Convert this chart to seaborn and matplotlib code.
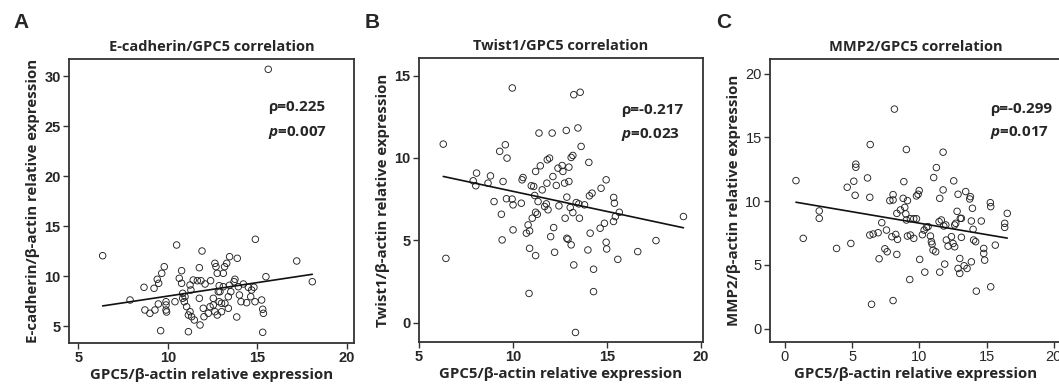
import numpy as np
import pandas as pd
import matplotlib
matplotlib.use("Agg")
import matplotlib.pyplot as plt
import seaborn as sns

# panel A: E-cadherin vs GPC5
gpc5_a = [15.61, 6.36, 7.89, 8.67, 8.72, 9.0, 9.23, 9.28, 9.41, 9.49, 9.66, 9.8, 9.6, 9.47,
          9.9, 9.9, 9.93, 9.9, 10.4, 10.49, 10.64, 10.77, 10.77, 10.83, 10.83, 10.96, 10.92,
          11.05, 11.15, 11.24, 11.15, 11.33, 11.48, 11.29, 11.24, 11.42, 11.65, 11.76, 11.8,
          11.76, 11.91, 11.85, 11.98, 12.02, 12.08, 12.26, 12.36, 12.39, 12.54, 12.63, 12.54,
          12.63, 12.69, 12.76, 12.82, 12.87, 12.76, 13.0, 12.87, 12.91, 13.1, 13.1, 13.17,
          13.29, 13.45, 13.44, 13.52, 13.38, 13.19, 13.0, 13.38, 13.7, 13.75, 13.85, 13.88,
          13.94, 14.0, 14.09, 14.22, 14.4, 14.5, 14.63, 14.68, 14.81, 14.87, 14.89, 15.24,
          15.3, 15.34, 15.3, 15.48, 17.2, 18.07]
ecad = [30.67, 12.03, 7.6, 8.87, 6.6, 6.27, 8.77, 6.6, 9.67, 9.27, 10.27, 10.93, 4.53, 7.2,
        7.1, 6.6, 6.4, 7.43, 7.43, 13.1, 9.77, 10.53, 9.27, 8.27, 7.77, 7.93, 7.43,
        6.93, 6.1, 6.43, 4.43, 5.93, 5.6, 8.6, 9.1, 9.6, 9.53, 7.77, 5.1,
        10.83, 12.5, 9.53, 6.77, 5.93, 9.2, 6.27, 6.93, 9.53, 7.1, 6.43, 7.77,
        11.27, 10.93, 10.27, 8.43, 9.03, 6.1, 6.43, 7.43, 8.43, 8.93, 10.27, 10.93,
        11.27, 11.93, 9.07, 8.43, 6.77, 7.27, 7.27, 7.93, 9.43, 9.67, 5.9, 11.77,
        8.93, 8.1, 7.43, 9.2, 7.33, 8.87, 7.93, 8.6, 8.87, 7.43, 13.67, 7.6,
        6.67, 6.27, 4.37, 9.93, 11.5, 9.43]

# panel B: Twist1 vs GPC5
gpc5_b = [6.29, 6.43, 7.88, 8.02, 8.06, 8.67, 8.8, 8.99, 9.29, 9.59, 9.68, 9.47, 9.38, 9.42,
          9.65, 9.95, 10.0, 9.96, 10.0, 10.44, 10.48, 10.53, 10.71, 10.8, 10.85, 10.88, 10.88,
          10.97, 11.02, 11.1, 11.15, 11.2, 11.2, 11.2, 11.33, 11.29, 11.38, 11.45, 11.55, 11.68,
          11.77, 11.8, 11.86, 11.82, 11.94, 12.0, 12.08, 12.12, 12.16, 12.21, 12.3, 12.39,
          12.44, 12.61, 12.65, 12.74, 12.77, 12.83, 12.86, 12.86, 12.92, 12.97, 12.97, 13.04,
          13.09, 13.09, 13.18, 13.18, 13.23, 13.23, 13.32, 13.36, 13.45, 13.5, 13.53, 13.57,
          13.62, 13.8, 13.98, 14.03, 14.06, 14.1, 14.2, 14.28, 14.28, 14.63, 14.68, 14.86,
          14.95, 14.95, 14.98, 15.35, 15.39, 15.34, 15.44, 15.57, 15.65, 16.63, 17.6, 19.06]
twist1 = [10.84, 3.9, 8.61, 8.31, 9.08, 8.47, 8.91, 7.35, 10.4, 10.8, 9.99, 8.57, 6.58, 5.02,
          7.52, 7.5, 7.15, 14.25, 5.63, 7.25, 8.67, 8.81, 5.43, 5.93, 1.77, 4.51, 5.57,
          8.31, 6.34, 8.27, 7.72, 6.7, 4.07, 9.18, 7.35, 6.58, 11.51, 9.52, 8.06, 7.05,
          7.21, 8.47, 6.85, 9.89, 9.99, 5.22, 11.51, 8.87, 5.77, 4.27, 8.33, 9.38,
          7.09, 9.54, 9.18, 8.47, 6.34, 11.67, 7.62, 5.12, 5.06, 8.57, 9.44, 6.99,
          4.72, 10.03, 10.15, 6.68, 3.5, 13.84, -0.6, 7.29, 11.82, 7.21, 6.34, 13.99,
          10.7, 7.15, 4.41, 9.73, 7.7, 5.43, 7.86, 3.24, 1.88, 5.73, 8.16, 6.03,
          8.67, 4.88, 4.47, 7.6, 7.25, 6.14, 6.44, 3.84, 6.7, 4.31, 4.98, 6.44]

# panel C: MMP2 vs GPC5
gpc5_c = [0.82, 1.36, 2.55, 2.55, 3.84, 4.63, 4.9, 5.12, 5.27, 5.27, 5.22, 6.14, 6.34, 6.31,
          6.31, 6.56, 6.44, 6.93, 7.0, 7.2, 7.43, 7.6, 7.55, 7.8, 8.04, 8.04, 8.14, 7.95,
          8.04, 8.32, 8.24, 8.37, 8.32, 8.59, 8.79, 8.84, 9.03, 8.91, 9.11, 8.99, 9.03,
          9.11, 9.33, 9.28, 9.33, 9.58, 9.78, 9.58, 9.78, 9.9, 9.98, 10.02, 10.22, 10.35,
          10.52, 10.4, 10.64, 10.82, 10.89, 10.94, 11.01, 11.21, 11.06, 11.26, 11.51, 11.46,
          11.63, 11.51, 11.76, 11.76, 11.81, 11.96, 11.88, 12.0, 12.13, 12.38, 12.5, 12.55,
          12.62, 12.7, 12.62, 12.8, 12.87, 13.0, 13.04, 13.12, 13.12, 12.87, 13.0, 13.32,
          13.54, 13.44, 13.74, 13.79, 13.86, 13.99, 13.94, 13.86, 14.03, 14.18, 14.23, 14.6,
          14.78, 14.78, 14.85, 15.27, 15.3, 15.3, 15.64, 16.34, 16.34, 16.53]
mmp2 = [11.61, 7.08, 9.23, 8.65, 6.29, 11.09, 6.68, 11.56, 12.9, 12.66, 10.46, 11.82, 14.44, 10.3,
        7.34, 7.42, 1.91, 7.52, 5.48, 8.31, 6.26, 6.03, 7.73, 10.04, 10.51, 10.09, 17.22, 7.21,
        2.2, 9.04, 7.39, 7.0, 5.82, 9.31, 10.22, 11.53, 14.05, 9.51, 10.04, 9.0, 8.52,
        7.26, 7.34, 3.85, 8.62, 8.62, 8.62, 7.08, 10.41, 10.54, 10.83, 5.43, 7.37, 7.73,
        7.94, 4.43, 8.0, 7.26, 6.82, 6.63, 6.16, 6.03, 11.85, 12.63, 10.22, 8.39,
        8.52, 4.43, 13.84, 10.88, 8.05, 8.13, 5.06, 6.95, 6.47, 7.21, 6.68, 11.59,
        8.13, 8.26, 6.42, 9.2, 10.54, 5.5, 8.65, 8.65, 7.16, 4.72, 4.33, 4.93,
        4.72, 10.75, 10.17, 10.35, 8.44, 7.79, 9.44, 5.24, 6.95, 6.82, 2.94, 8.44,
        6.29, 5.9, 5.37, 9.88, 9.57, 3.28, 6.55, 8.26, 7.94, 9.04]

titles = ["E-cadherin/GPC5 correlation", "Twist1/GPC5 correlation", "MMP2/GPC5 correlation"]
ylabels = ["E-cadherin/β-actin relative expression", "Twist1/β-actin relative expression",
           "MMP2/β-actin relative expression"]
xlabel = "GPC5/β-actin relative expression"
letters = ["A", "B", "C"]
rhos = ["ρ=0.225", "ρ=-0.217", "ρ=-0.299"]
pvals = ["0.007", "0.023", "0.017"]

sns.set_style("white")
plt.rcParams['font.family'] = ['Open Sans', 'DejaVu Sans']
plt.rcParams['mathtext.fontset'] = 'custom'
plt.rcParams['mathtext.it'] = 'Open Sans:italic:bold'

fig = plt.figure(figsize=(10.59, 3.88), dpi=100)
W, H = 1059, 388
boxes = [(69, 354, 59, 343), (419, 703, 58, 342), (770, 1062, 59, 342)]
xlims = [(4.48, 20.4), (5.0, 20.1), (-1.11, 20.6)]
ylims = [(3.3, 31.7), (-1.18, 16.07), (-1.05, 21.15)]
xticks = [[5, 10, 15, 20], [5, 10, 15, 20], [0, 5, 10, 15, 20]]
yticks = [[5, 10, 15, 20, 25, 30], [0, 5, 10, 15], [0, 5, 10, 15, 20]]
text_pos = [(0.70, 0.83, 0.74), (0.71, 0.818, 0.729), (0.755, 0.824, 0.739)]
letter_x = [13, 365, 716]

datasets = [(gpc5_a, ecad), (gpc5_b, twist1), (gpc5_c, mmp2)]

for i, (xs, ys) in enumerate(datasets):
    l, r, t, b = boxes[i]
    ax = fig.add_axes([l / W, (H - b) / H, (r - l) / W, (b - t) / H])
    df = pd.DataFrame({"x": xs, "y": ys})
    sns.scatterplot(data=df, x="x", y="y", ax=ax, s=22, facecolor="none",
                    edgecolor="#222222", linewidth=0.65)
    sns.regplot(data=df, x="x", y="y", ax=ax, scatter=False, ci=None,
                line_kws={"color": "#111111", "lw": 1.2})
    ax.set_xlim(*xlims[i])
    ax.set_ylim(*ylims[i])
    ax.set_xticks(xticks[i])
    ax.set_yticks(yticks[i])
    tick_weight = "normal" if i == 2 else "bold"
    for lab in ax.get_xticklabels() + ax.get_yticklabels():
        lab.set_family(["Liberation Sans Narrow", "Liberation Sans"] if i < 2 else ["Liberation Sans"])
        lab.set_fontsize(10.5)
        lab.set_fontweight(tick_weight)
    ax.tick_params(axis="both", which="both", direction="out", length=4, width=1,
                   color="#333333", bottom=True, left=True, pad=2)
    for sp in ax.spines.values():
        sp.set_color("#333333")
        sp.set_linewidth(1.3)
    ax.set_xlabel(xlabel, fontsize=10.8, fontweight="bold", labelpad=2)
    ax.set_ylabel(ylabels[i], fontsize=10.8, fontweight="bold", labelpad=3)
    ax.set_title(titles[i], fontsize=10.5, fontweight="bold", pad=6)
    tx, ty1, ty2 = text_pos[i]
    ax.text(tx, ty1, rhos[i], transform=ax.transAxes, fontsize=11, fontweight="bold",
            va="center", ha="left")
    ax.text(tx, ty2, r"$p$=" + pvals[i], transform=ax.transAxes, fontsize=11,
            fontweight="bold", va="center", ha="left")
    fig.text(letter_x[i] / W, 1 - 22 / H, letters[i], fontsize=15, fontweight="bold",
             family=["Liberation Sans"], va="center", ha="left")

fig.savefig("out.png", dpi=100)
